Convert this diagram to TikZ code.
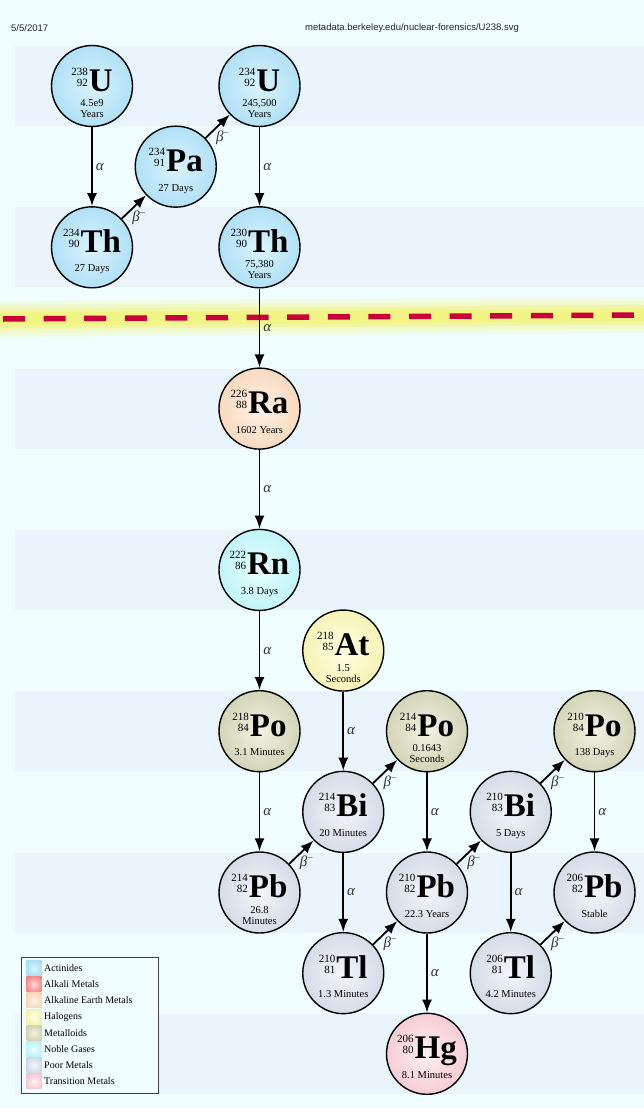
\documentclass[tikz,border=0pt]{standalone}
\usepackage{fontspec}
\setmainfont{Liberation Serif}
\newfontfamily\hdrfont{Liberation Sans}
\usetikzlibrary{arrows.meta}

\definecolor{bgbase}{HTML}{F0FEFF}
\definecolor{bgband}{HTML}{EAF4FC}
\definecolor{dashred}{HTML}{C8003C}
\definecolor{glow}{HTML}{F4F25A}
\definecolor{acC}{HTML}{DAF3FD}\definecolor{acE}{HTML}{86CEF0}
\definecolor{alC}{HTML}{FFDADA}\definecolor{alE}{HTML}{F04A4A}
\definecolor{aeC}{HTML}{FFF1E4}\definecolor{aeE}{HTML}{F0C49C}
\definecolor{haC}{HTML}{FFFEE2}\definecolor{haE}{HTML}{F0E88A}
\definecolor{meC}{HTML}{F1F1E2}\definecolor{meE}{HTML}{B8B890}
\definecolor{ngC}{HTML}{E8FEFE}\definecolor{ngE}{HTML}{98ECF2}
\definecolor{pmC}{HTML}{F3F6FA}\definecolor{pmE}{HTML}{B6C2D6}
\definecolor{tmC}{HTML}{FDEFF1}\definecolor{tmE}{HTML}{EEACB8}

\pgfdeclareradialshading{acSh}{\pgfpoint{0bp}{0bp}}{color(0bp)=(acC); color(50bp)=(acE)}
\pgfdeclareradialshading{alSh}{\pgfpoint{0bp}{0bp}}{color(0bp)=(alC); color(50bp)=(alE)}
\pgfdeclareradialshading{aeSh}{\pgfpoint{0bp}{0bp}}{color(0bp)=(aeC); color(50bp)=(aeE)}
\pgfdeclareradialshading{haSh}{\pgfpoint{0bp}{0bp}}{color(0bp)=(haC); color(50bp)=(haE)}
\pgfdeclareradialshading{meSh}{\pgfpoint{0bp}{0bp}}{color(0bp)=(meC); color(50bp)=(meE)}
\pgfdeclareradialshading{ngSh}{\pgfpoint{0bp}{0bp}}{color(0bp)=(ngC); color(50bp)=(ngE)}
\pgfdeclareradialshading{pmSh}{\pgfpoint{0bp}{0bp}}{color(0bp)=(pmC); color(50bp)=(pmE)}
\pgfdeclareradialshading{tmSh}{\pgfpoint{0bp}{0bp}}{color(0bp)=(tmC); color(50bp)=(tmE)}

\newcommand\nucnums[2]{{\fontsize{11}{11}\mdseries\selectfont\raisebox{5pt}{\begin{tabular}[b]{@{}r@{}}#1\\#2\end{tabular}}}\kern1pt}
\newcommand\bminus{β\raisebox{5pt}{\fontsize{10}{10}\selectfont\upshape −}}

% name c r shading A Z symbol halflife
\newcommand\isoone[8]{%
  \node[isocirc, shading=#4] (#1) at ({92+167.5*#2},{86+161.3*#3}) {};
  \node[symtxt] (#1-s) at ([yshift=-5pt]#1.center) {\nucnums{#5}{#6}#7};
  \node[hltxt] (#1-h) at ([yshift=-24.5pt]#1.center) {#8};
}
\newcommand\isotwo[9]{%
  \node[isocirc, shading=#4] (#1) at ({92+167.5*#2},{86+161.3*#3}) {};
  \node[symtxt] (#1-s) at ([yshift=-5pt]#1.center) {\nucnums{#5}{#6}#7};
  \node[hltxt] (#1-h) at ([yshift=-20.5pt]#1.center) {#8};
  \node[hltxt] (#1-k) at ([yshift=-31.5pt]#1.center) {#9};
}

\begin{document}
\begin{tikzpicture}[x=1pt,y=-1pt,
  isocirc/.style={circle, draw=black, line width=1.4pt, minimum size=81pt, inner sep=0pt},
  symtxt/.style={anchor=base, inner sep=0pt, font=\fontsize{33}{33}\selectfont\bfseries},
  hltxt/.style={anchor=base, inner sep=0pt, font=\fontsize{10.5}{10.5}\selectfont},
  decay/.style={line width=1.8pt, -{Latex[length=13pt,width=10pt]}},
  dlab/.style={inner sep=1pt, text=black!80, font=\fontsize{15}{15}\selectfont\itshape},
  hdr/.style={inner sep=0pt, text=black!85, font=\hdrfont\fontsize{9.5}{9.5}\selectfont},
  swatch/.style={rectangle, minimum width=15pt, minimum height=15pt, inner sep=0pt},
  legtxt/.style={anchor=west, inner sep=0pt, font=\fontsize{10}{10}\selectfont}
]
\useasboundingbox (0,0) rectangle (644,1108);
\fill[bgbase] (0,0) rectangle (644,1108);
\foreach \k in {0,...,6}{
  \fill[bgband] (15,{46+161.3*\k}) rectangle (644,{126+161.3*\k});
}

% header
\node[hdr, anchor=west] (date) at (11,28) {5/5/2017};
\node[hdr] (url) at (412,28) {metadata.berkeley.edu/nuclear-forensics/U238.svg};

% glowing dashed line
\foreach \w/\o in {36/0.15, 28/0.22, 20/0.3, 13/0.45}{
  \draw[glow, line width=\w pt, opacity=\o] (0,319) -- (644,315);
}
\draw[dashred, line width=5.5pt, dash pattern=on 22pt off 18.6pt] (3,319) -- (644,315);

% isotopes
\isotwo{U238}{0}{0}{acSh}{238}{92}{U}{4.5e9}{Years}
\isoone{Th234}{0}{1}{acSh}{234}{90}{Th}{27 Days}
\isoone{Pa234}{0.5}{0.5}{acSh}{234}{91}{Pa}{27 Days}
\isotwo{U234}{1}{0}{acSh}{234}{92}{U}{245,500}{Years}
\isotwo{Th230}{1}{1}{acSh}{230}{90}{Th}{75,380}{Years}
\isoone{Ra226}{1}{2}{aeSh}{226}{88}{Ra}{1602 Years}
\isoone{Rn222}{1}{3}{ngSh}{222}{86}{Rn}{3.8 Days}
\isotwo{At218}{1.5}{3.5}{haSh}{218}{85}{At}{1.5}{Seconds}
\isoone{Po218}{1}{4}{meSh}{218}{84}{Po}{3.1 Minutes}
\isotwo{Po214}{2}{4}{meSh}{214}{84}{Po}{0.1643}{Seconds}
\isoone{Po210}{3}{4}{meSh}{210}{84}{Po}{138 Days}
\isoone{Bi214}{1.5}{4.5}{pmSh}{214}{83}{Bi}{20 Minutes}
\isoone{Bi210}{2.5}{4.5}{pmSh}{210}{83}{Bi}{5 Days}
\isotwo{Pb214}{1}{5}{pmSh}{214}{82}{Pb}{26.8}{Minutes}
\isoone{Pb210}{2}{5}{pmSh}{210}{82}{Pb}{22.3 Years}
\isoone{Pb206}{3}{5}{pmSh}{206}{82}{Pb}{Stable}
\isoone{Tl210}{1.5}{5.5}{pmSh}{210}{81}{Tl}{1.3 Minutes}
\isoone{Tl206}{2.5}{5.5}{pmSh}{206}{81}{Tl}{4.2 Minutes}
\isoone{Hg206}{2}{6}{tmSh}{206}{80}{Hg}{8.1 Minutes}

% alpha decays
\foreach \a/\b/\n in {U238/Th234/a1, U234/Th230/a2, Th230/Ra226/a3, Ra226/Rn222/a4,
  Rn222/Po218/a5, Po218/Pb214/a6, At218/Bi214/a7, Bi214/Tl210/a8,
  Po214/Pb210/a9, Pb210/Hg206/a10, Bi210/Tl206/a11, Po210/Pb206/a12}{
  \draw[decay] (\a) -- (\b) node[midway, right=2pt, dlab] (\n) {α};
}
% beta decays
\foreach \a/\b/\n in {Th234/Pa234/b1, Pa234/U234/b2, Pb214/Bi214/b3, Bi214/Po214/b4,
  Tl210/Pb210/b5, Pb210/Bi210/b6, Bi210/Po210/b7, Tl206/Pb206/b8}{
  \draw[decay] (\a) -- (\b) node[midway, dlab, xshift=5pt, yshift=-11pt] (\n) {\bminus};
}

% legend
\node[draw=black!75, line width=1.2pt, fill=bgbase, minimum width=137pt, minimum height=136pt, anchor=north west, inner sep=0pt] (legend) at (21,957) {};
\foreach \s/\t [count=\i from 0] in {acSh/Actinides, alSh/Alkali Metals, aeSh/Alkaline Earth Metals,
  haSh/Halogens, meSh/Metalloids, ngSh/Noble Gases, pmSh/Poor Metals, tmSh/Transition Metals}{
  \node[swatch, shading=\s] (sw\i) at (34,{968+16.2*\i}) {};
  \node[legtxt] (lt\i) at (44,{968+16.2*\i}) {\t};
}
\end{tikzpicture}
\end{document}
